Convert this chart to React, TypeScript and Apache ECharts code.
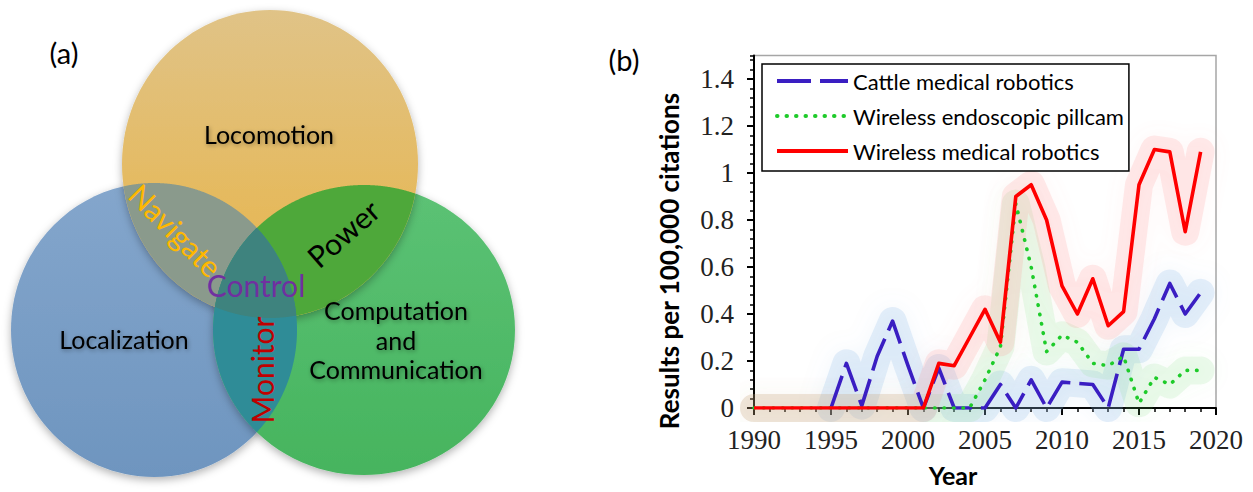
import React, { useEffect, useRef } from "react";
import * as echarts from "echarts";

// ---------- Data (panel b) ----------
const years = [
  1990, 1991, 1992, 1993, 1994, 1995, 1996, 1997, 1998, 1999,
  2000, 2001, 2002, 2003, 2004, 2005, 2006, 2007, 2008, 2009,
  2010, 2011, 2012, 2013, 2014, 2015, 2016, 2017, 2018, 2019,
];
const cattleMedicalRobotics = [
  null, null, null, null, null, 0, 0.19, 0.01, 0.22, 0.37,
  0.18, 0, 0.17, 0, 0, 0, 0.1, 0, 0.12, 0,
  0.11, 0.105, 0.1, 0, 0.25, 0.25, 0.38, 0.53, 0.4, 0.49,
];
const wirelessEndoscopicPillcam = [
  0, 0, 0, 0, 0, 0, 0, 0, 0, 0,
  0, 0, 0, 0, 0, 0.12, 0.26, 0.87, 0.6, 0.24,
  0.31, 0.28, 0.19, 0.18, 0.22, 0.02, 0.13, 0.1, 0.16, 0.16,
];
const wirelessMedicalRobotics = [
  0, 0, 0, 0, 0, 0, 0, 0, 0, 0,
  0, 0, 0.19, 0.18, 0.3, 0.42, 0.28, 0.9, 0.95, 0.8,
  0.52, 0.4, 0.55, 0.35, 0.41, 0.95, 1.1, 1.09, 0.75, 1.09,
];
const seriesNames = [
  "Cattle medical robotics",
  "Wireless endoscopic pillcam",
  "Wireless medical robotics",
];
const xTickYears = [1990, 1995, 2000, 2005, 2010, 2015, 2020];
const yTickValues = [0, 0.2, 0.4, 0.6, 0.8, 1, 1.2, 1.4];

// ---------- Venn labels (panel a) ----------
const vennSets = ["Locomotion", "Localization", "Computation", "and", "Communication"];
const vennOverlaps = ["Navigate", "Power", "Monitor", "Control"];

type Ell = { cx: number; cy: number; rx: number; ry: number };
const ORANGE: Ell = { cx: 270, cy: 164, rx: 148, ry: 154 };
const BLUE: Ell = { cx: 154, cy: 330, rx: 143, ry: 147 };
const GREEN: Ell = { cx: 364, cy: 330, rx: 151, ry: 145 };

function inside(e: Ell, x: number, y: number) {
  const dx = (x - e.cx) / e.rx;
  const dy = (y - e.cy) / e.ry;
  return dx * dx + dy * dy <= 1.0005;
}
function region(es: Ell[]): number[][] {
  const pts: number[][] = [];
  es.forEach((e, i) => {
    const n = 1440;
    for (let k = 0; k < n; k++) {
      const t = (k / n) * Math.PI * 2;
      const x = e.cx + e.rx * Math.cos(t);
      const y = e.cy + e.ry * Math.sin(t);
      if (es.every((o, j) => j === i || inside(o, x, y))) pts.push([x, y]);
    }
  });
  let mx = 0;
  let my = 0;
  pts.forEach((p) => {
    mx += p[0];
    my += p[1];
  });
  mx /= pts.length;
  my /= pts.length;
  pts.sort(
    (a, b) => Math.atan2(a[1] - my, a[0] - mx) - Math.atan2(b[1] - my, b[0] - mx)
  );
  return pts;
}

const FONT = "Lato, 'Open Sans', sans-serif";
const SERIF = "'Liberation Serif', 'DejaVu Serif', serif";

function vtext(
  text: string,
  x: number,
  y: number,
  size: number,
  fill: string,
  rotation = 0,
  shadow = true,
  bold = false
) {
  return {
    type: "text",
    x,
    y,
    rotation,
    z: 20,
    style: {
      text,
      fontSize: size,
      fontFamily: FONT,
      fontWeight: bold ? "bold" : "normal",
      fill,
      align: "center",
      verticalAlign: "middle",
      textAlign: "center",
      textVerticalAlign: "middle",
      textShadowColor: shadow ? "rgba(0,0,0,0.35)" : "transparent",
      textShadowBlur: shadow ? 4 : 0,
      textShadowOffsetX: shadow ? 1 : 0,
      textShadowOffsetY: shadow ? 1.5 : 0,
    },
  };
}

function ellipseEl(e: Ell, top: string, bottom: string) {
  return {
    type: "ellipse",
    z: 10,
    shape: { cx: e.cx, cy: e.cy, rx: e.rx, ry: e.ry },
    style: {
      fill: new echarts.graphic.LinearGradient(0, 0, 0, 1, [
        { offset: 0, color: top },
        { offset: 1, color: bottom },
      ]),
      shadowBlur: 8,
      shadowColor: "rgba(0,0,0,0.3)",
      shadowOffsetY: 3,
    },
  };
}
function polyEl(points: number[][], fill: string) {
  return { type: "polygon", z: 11, shape: { points }, style: { fill } };
}

function buildOption() {
  const pair = (arr: (number | null)[]) => years.map((y, i) => [y, arr[i]]);
  const seriesData = [cattleMedicalRobotics, wirelessEndoscopicPillcam, wirelessMedicalRobotics];
  const lineColors = ["#3a1ec2", "#1ecb2a", "#ff0000"];
  const glowColors = [
    "rgba(140,185,230,0.22)",
    "rgba(110,215,110,0.13)",
    "rgba(255,130,130,0.16)",
  ];
  const glowShadow = [
    "rgba(140,185,230,0.5)",
    "rgba(110,215,110,0.35)",
    "rgba(255,130,130,0.4)",
  ];
  const lineTypes: any[] = [[34, 9], [0.5, 9], "solid"];
  const caps = ["butt", "round", "butt"];

  const glowSeries = seriesData.map((arr, i) => ({
    type: "line",
    name: "glow" + i,
    xAxisIndex: 0,
    yAxisIndex: 0,
    data: pair(arr),
    symbol: "none",
    silent: true,
    lineStyle: {
      color: glowColors[i],
      width: 28,
      cap: "round",
      join: "round",
      shadowBlur: 20,
      shadowColor: glowShadow[i],
    },
  }));
  const mainSeries = seriesData.map((arr, i) => ({
    type: "line",
    name: seriesNames[i],
    xAxisIndex: 0,
    yAxisIndex: 0,
    data: pair(arr),
    symbol: "none",
    showSymbol: false,
    lineStyle: {
      color: lineColors[i],
      width: 3.6,
      type: lineTypes[i],
      cap: caps[i],
      join: "round",
    },
    itemStyle: { color: lineColors[i] },
  }));

  const graphic: any[] = [
    ellipseEl(BLUE, "#84a6cc", "#6e95bf"),
    ellipseEl(GREEN, "#5cc275", "#46b45e"),
    ellipseEl(ORANGE, "#e0c387", "#e8b446"),
    polyEl(region([ORANGE, BLUE]), "#8a9a8c"),
    polyEl(region([ORANGE, GREEN]), "#4ea83a"),
    polyEl(region([BLUE, GREEN]), "#2f8c97"),
    polyEl(region([ORANGE, BLUE, GREEN]), "#3e837e"),
    vtext("(a)", 64, 52, 29, "#000", 0, false),
    vtext(vennSets[0], 269, 134, 25, "#000"),
    vtext(vennSets[1], 124, 339, 25, "#000"),
    vtext(vennSets[2], 396, 310, 25, "#000"),
    vtext(vennSets[3], 396, 340, 25, "#000"),
    vtext(vennSets[4], 396, 369, 25, "#000"),
    vtext(vennOverlaps[0], 176, 230, 30, "#ffb800", -Math.PI / 4, false),
    vtext(vennOverlaps[1], 343, 233, 30, "#000", 0.72, false),
    vtext(vennOverlaps[2], 262, 370, 30, "#c00000", Math.PI / 2, false),
    vtext(vennOverlaps[3], 256, 285, 30, "#7030a0", 0, false),
    vtext("(b)", 624, 59, 29, "#000", 0, false),
    vtext("Results per 100,000 citations", 669, 261, 26, "#000", Math.PI / 2, false, true),
    vtext("Year", 953, 475, 25, "#000", 0, false, true),
  ];

  const labelStyle = { fontFamily: SERIF, fontSize: 27, color: "#222" };

  return {
    animation: false,
    backgroundColor: "#fff",
    grid: [
      {
        left: 754,
        right: 37,
        top: 55.5,
        bottom: 84,
        show: true,
        borderColor: "#a6a6a6",
        borderWidth: 1.5,
        backgroundColor: "transparent",
      },
      { left: 754, right: 37, top: 79, bottom: 84 },
    ],
    xAxis: [
      {
        type: "value",
        gridIndex: 0,
        min: xTickYears[0],
        max: xTickYears[xTickYears.length - 1],
        interval: 5,
        axisLine: { show: true, onZero: false, lineStyle: { color: "#000", width: 2 } },
        axisTick: { show: true, length: 7, lineStyle: { color: "#000", width: 2 } },
        minorTick: { show: true, splitNumber: 5, length: 4, lineStyle: { color: "#000", width: 1.5 } },
        splitLine: { show: false },
        minorSplitLine: { show: false },
        axisLabel: { ...labelStyle, margin: 18, formatter: (v: number) => String(v) },
      },
      { type: "value", gridIndex: 1, show: false, min: 0, max: 1 },
    ],
    yAxis: [
      {
        type: "value",
        gridIndex: 0,
        min: 0,
        max: 1.5,
        interval: 0.04,
        axisLine: { show: true, lineStyle: { color: "#000", width: 2 } },
        axisTick: { show: true, length: 4, lineStyle: { color: "#000", width: 1.5 } },
        axisLabel: { show: false },
        splitLine: { show: false },
      },
      {
        type: "value",
        gridIndex: 1,
        min: yTickValues[0],
        max: yTickValues[yTickValues.length - 1],
        interval: 0.2,
        axisLine: { show: false },
        axisTick: { show: true, length: 7, lineStyle: { color: "#000", width: 2 } },
        axisLabel: { ...labelStyle, margin: 20, formatter: (v: number) => String(+v.toFixed(1)) },
        splitLine: { show: false },
      },
    ],
    legend: {
      orient: "vertical",
      left: 762,
      top: 64,
      itemWidth: 71,
      itemHeight: 14,
      itemGap: 13,
      padding: [6, 5, 9, 13],
      borderColor: "#000",
      borderWidth: 1.5,
      backgroundColor: "#fff",
      selectedMode: false,
      itemStyle: { opacity: 0, borderWidth: 0 },
      lineStyle: { width: 4 },
      textStyle: { fontFamily: FONT, fontSize: 22, color: "#000" },
      data: seriesNames,
    },
    series: [...glowSeries, ...mainSeries],
    graphic,
  };
}

export default function App() {
  const ref = useRef<HTMLDivElement>(null);
  useEffect(() => {
    document.body.style.margin = "0";
    const chart = echarts.init(ref.current!, null, { renderer: "svg" });
    chart.setOption(buildOption() as any);
    return () => chart.dispose();
  }, []);
  return <div ref={ref} style={{ width: 1253, height: 492, background: "#fff" }} />;
}
